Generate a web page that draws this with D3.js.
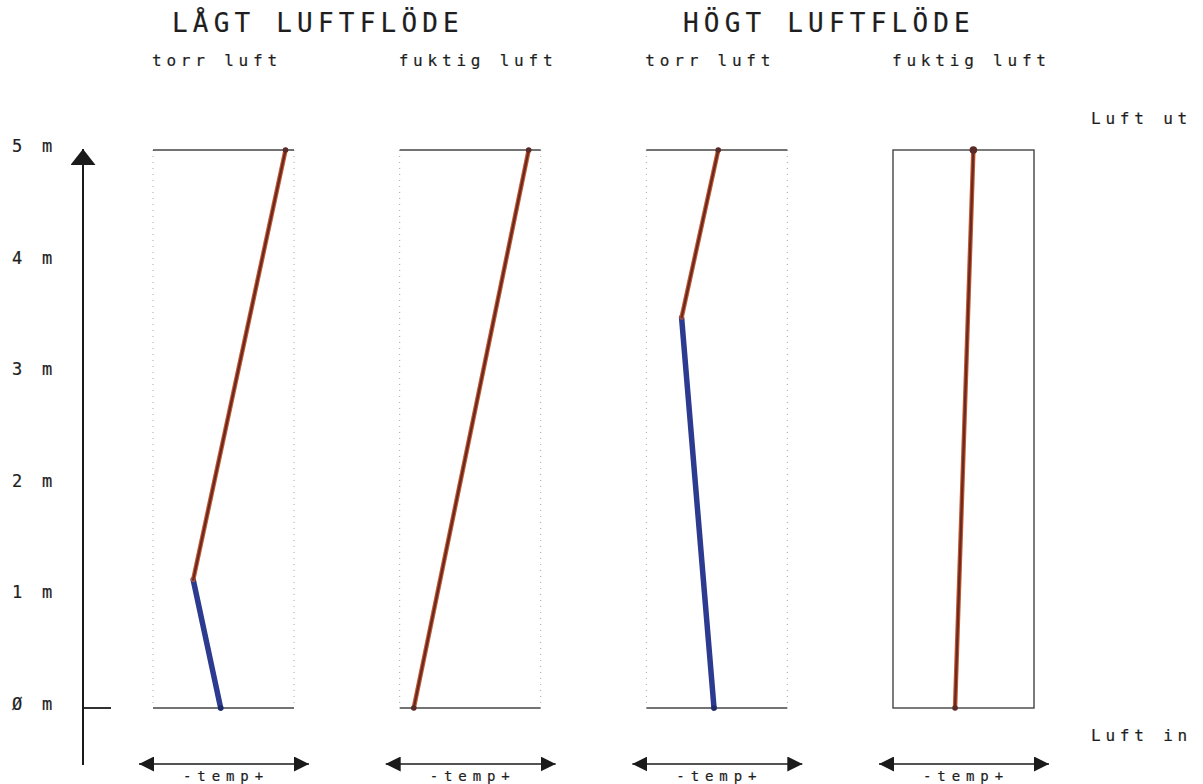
<!DOCTYPE html>
<html>
<head>
<meta charset="utf-8">
<script src="https://cdn.jsdelivr.net/npm/d3@7"></script>
<style>
  body { margin: 0; background: #fff; }
  text { font-family: "DejaVu Sans Mono", monospace; fill: #1e1e1e; stroke: #1e1e1e; stroke-width: 0.2; }
</style>
</head>
<body>
<div id="chart"></div>
<script>
// Data
const groupTitles = ["LÅGT LUFTFLÖDE", "HÖGT LUFTFLÖDE"];
const panelNames = ["torr luft", "fuktig luft", "torr luft", "fuktig luft"];
const heightTicks = [0, 1, 2, 3, 4, 5];
// height (m) and relative temperature (0 = left edge of panel, 100 = right edge)
const profileHeights = [[0, 1.15, 5], [0, 5], [0, 3.5, 5], [0, 5]];
const profileTemps = [[48, 28.5, 94], [10, 91.5], [48, 25, 51], [44, 57]];
// index of the point where the cold part ends (-1 = no cold part)
const coldEnd = [1, -1, 1, -1];
const outLabel = "Luft ut";
const inLabel = "Luft in";
const tempLabel = "-temp+";

// Dimensions
const width = 1203;
const height = 784;
const panelWidth = 141;

const svg = d3.select("#chart").append("svg")
  .attr("width", width)
  .attr("height", height);

// arrow heads
const defs = svg.append("defs");
[["head", 15, 15], ["bighead", 16, 25]].forEach(([id, w, h]) => {
  defs.append("marker")
    .attr("id", id)
    .attr("viewBox", "0 0 10 10")
    .attr("refX", 10)
    .attr("refY", 5)
    .attr("markerUnits", "userSpaceOnUse")
    .attr("markerWidth", w)
    .attr("markerHeight", h)
    .attr("preserveAspectRatio", "none")
    .attr("orient", "auto-start-reverse")
    .append("path")
    .attr("d", "M0,0 L10,5 L0,10 Z")
    .attr("fill", "#1a1a1a");
});

// Scales
const y = d3.scaleLinear().domain([0, 5]).range([708, 150]);
const panelLeft = d3.scaleLinear().domain([0, 3]).range([153, 893]);
const tempX = i => d3.scaleLinear().domain([0, 100]).range([panelLeft(i), panelLeft(i) + panelWidth]);

// Titles
svg.append("g")
  .selectAll("text")
  .data(groupTitles)
  .join("text")
  .attr("x", (d, i) => [172, 683][i])
  .attr("y", 32)
  .attr("font-size", 26)
  .attr("letter-spacing", 5.2)
  .text(d => d);

svg.append("g")
  .selectAll("text")
  .data(panelNames)
  .join("text")
  .attr("x", (d, i) => panelLeft(i) - 1)
  .attr("y", 66)
  .attr("font-size", 16)
  .attr("letter-spacing", 4.8)
  .text(d => d);

svg.append("text")
  .attr("x", 1091).attr("y", 124)
  .attr("font-size", 16).attr("letter-spacing", 4.8)
  .text(outLabel);

svg.append("text")
  .attr("x", 1091).attr("y", 741)
  .attr("font-size", 16).attr("letter-spacing", 4.8)
  .text(inLabel);

// Height axis
const axisX = 83;
svg.append("line")
  .attr("x1", axisX).attr("x2", axisX)
  .attr("y1", 765).attr("y2", y(5) - 1)
  .attr("stroke", "#1a1a1a")
  .attr("stroke-width", 2)
  .attr("marker-end", "url(#bighead)");

svg.append("line")
  .attr("x1", axisX).attr("x2", 111)
  .attr("y1", y(0)).attr("y2", y(0))
  .attr("stroke", "#1a1a1a")
  .attr("stroke-width", 1.8);

svg.append("g")
  .selectAll("text")
  .data(heightTicks)
  .join("text")
  .attr("x", 12)
  .attr("y", d => y(d) - 4)
  .attr("dy", "0.35em")
  .attr("font-size", 17)
  .attr("letter-spacing", 4.8)
  .text(d => (d === 0 ? "Ø" : d) + " m");

// Panels
const panel = svg.append("g")
  .selectAll("g")
  .data(panelNames)
  .join("g");

// dotted sides
panel.filter((d, i) => i < 3)
  .selectAll("line.side")
  .data((d, i) => [panelLeft(i), panelLeft(i) + panelWidth])
  .join("line")
  .attr("class", "side")
  .attr("x1", d => d).attr("x2", d => d)
  .attr("y1", y(5)).attr("y2", y(0))
  .attr("stroke", "#a8a8a8")
  .attr("stroke-dasharray", "1,5");

panel.filter((d, i) => i < 3)
  .selectAll("line.edge")
  .data((d, i) => [y(5), y(0)].map(v => ({ i, v })))
  .join("line")
  .attr("class", "edge")
  .attr("x1", d => panelLeft(d.i)).attr("x2", d => panelLeft(d.i) + panelWidth)
  .attr("y1", d => d.v).attr("y2", d => d.v)
  .attr("stroke", "#444")
  .attr("stroke-width", 1.4);

panel.filter((d, i) => i === 3)
  .append("rect")
  .attr("x", panelLeft(3))
  .attr("y", y(5))
  .attr("width", panelWidth)
  .attr("height", y(0) - y(5))
  .attr("fill", "none")
  .attr("stroke", "#444")
  .attr("stroke-width", 1.4);

// Profiles
const line = d3.line().x(d => d[0]).y(d => d[1]);

panel.each(function (d, i) {
  const x = tempX(i);
  const pts = profileHeights[i].map((h, j) => [x(profileTemps[i][j]), y(h)]);
  const g = d3.select(this);
  const c = coldEnd[i];
  if (c > 0) {
    g.append("path")
      .attr("d", line(pts.slice(0, c + 1)))
      .attr("fill", "none")
      .attr("stroke", "#2c3b8f")
      .attr("stroke-width", 5.5)
      .attr("stroke-linecap", "round");
  }
  g.append("path")
    .attr("d", line(pts.slice(Math.max(c, 0))))
    .attr("fill", "none")
    .attr("stroke", "#c4592f")
    .attr("stroke-width", 4.5)
    .attr("stroke-linecap", "round");
  g.append("path")
    .attr("d", line(pts.slice(Math.max(c, 0))))
    .attr("fill", "none")
    .attr("stroke", "#6a2a22")
    .attr("stroke-width", 2.3)
    .attr("stroke-linecap", "round");
  g.append("circle")
    .attr("cx", pts[pts.length - 1][0])
    .attr("cy", pts[pts.length - 1][1])
    .attr("r", i === 3 ? 3.8 : 2.8)
    .attr("fill", "#5a2a26");
  g.append("circle")
    .attr("cx", pts[0][0])
    .attr("cy", pts[0][1])
    .attr("r", 2.8)
    .attr("fill", c > 0 ? "#1f2a6a" : "#5a2a26");
});

// temperature arrows
const tempArrow = svg.append("g")
  .selectAll("g")
  .data(panelNames)
  .join("g");

tempArrow.append("line")
  .attr("x1", (d, i) => panelLeft(i) - 14)
  .attr("x2", (d, i) => panelLeft(i) + panelWidth + 15)
  .attr("y1", 764).attr("y2", 764)
  .attr("stroke", "#1a1a1a")
  .attr("stroke-width", 1.5)
  .attr("marker-start", "url(#head)")
  .attr("marker-end", "url(#head)");

tempArrow.append("text")
  .attr("x", (d, i) => panelLeft(i) + 30)
  .attr("y", 781)
  .attr("font-size", 14)
  .attr("letter-spacing", 5.9)
  .text(tempLabel);
</script>
</body>
</html>
